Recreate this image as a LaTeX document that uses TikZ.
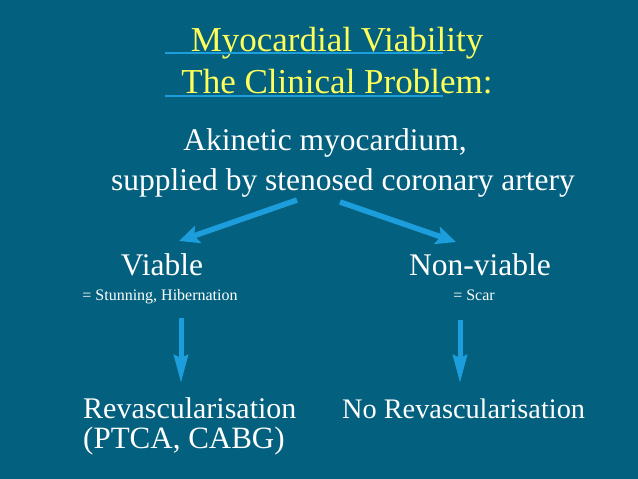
\documentclass[tikz,border=0pt]{standalone}
\usepackage{fontspec}
\setmainfont{Liberation Serif}
\usetikzlibrary{arrows.meta}
\definecolor{bg}{RGB}{3,96,126}
\definecolor{arr}{RGB}{28,158,220}
\definecolor{ttl}{RGB}{255,255,90}
\tikzset{
  conn/.style={draw=arr,line width=5.5pt,-{Stealth[length=20pt,width=18pt,inset=4pt]}},
  vconn/.style={draw=arr,line width=5pt,-{Stealth[length=28pt,width=14pt,inset=3pt]}},
  ttltext/.style={text=ttl,font=\rmfamily\fontsize{35}{38}\selectfont,inner sep=0pt},
  bodytext/.style={text=white,font=\rmfamily\fontsize{31.5}{34}\selectfont,inner sep=0pt},
  smalltext/.style={text=white,font=\rmfamily\fontsize{16}{18}\selectfont,inner sep=0pt},
  uline/.style={draw=arr,line width=1.5pt}
}
\begin{document}
\begin{tikzpicture}[x=1pt,y=-1pt]
\fill[bg] (0,0) rectangle (638,479);
\useasboundingbox (0,0) rectangle (638,479);
\node[ttltext,anchor=base] (t1) at (337,52) {Myocardial Viability};
\node[ttltext,anchor=base] (t2) at (337,93) {The Clinical Problem:};
\coordinate (u1a) at (165,53); \coordinate (u1b) at (443,53);
\coordinate (u2a) at (165,96); \coordinate (u2b) at (443,96);
\draw[uline] (u1a) -- (u1b);
\draw[uline] (u2a) -- (u2b);
\node[bodytext,anchor=base] (a1) at (325,150) {Akinetic myocardium,};
\node[bodytext,anchor=base] (a2) at (343,190) {supplied by stenosed coronary artery};
\coordinate (s1) at (297,200); \coordinate (e1) at (179,241);
\coordinate (s2) at (340,202); \coordinate (e2) at (456,242);
\draw[conn] (s1) -- (e1);
\draw[conn] (s2) -- (e2);
\node[bodytext,anchor=base] (v) at (162,275) {Viable};
\node[smalltext,anchor=base] (vs) at (160,300) {= Stunning, Hibernation};
\node[bodytext,anchor=base] (nv) at (480,275) {Non-viable};
\node[smalltext,anchor=base] (nvs) at (474,300) {= Scar};
\coordinate (d1a) at (181,318); \coordinate (d1b) at (181,383);
\coordinate (d2a) at (460,320); \coordinate (d2b) at (460,383);
\draw[vconn] (d1a) -- (d1b);
\draw[vconn] (d2a) -- (d2b);
\node[bodytext,font=\rmfamily\fontsize{30}{32}\selectfont,anchor=base west] (r1) at (83,418) {Revascularisation};
\node[bodytext,font=\rmfamily\fontsize{31}{34}\selectfont,anchor=base west] (r2) at (83,448) {(PTCA, CABG)};
\node[bodytext,font=\rmfamily\fontsize{28.3}{30}\selectfont,anchor=base west] (nr) at (342,418) {No Revascularisation};
\end{tikzpicture}
\end{document}
